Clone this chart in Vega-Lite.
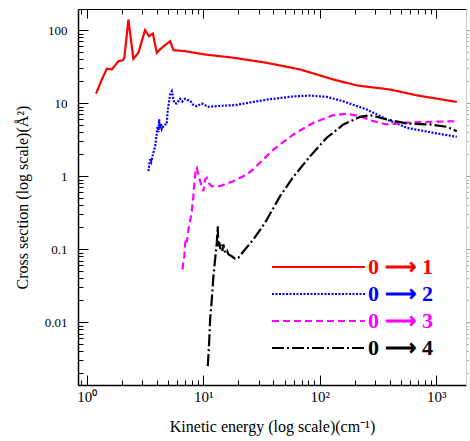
{
  "$schema": "https://vega.github.io/schema/vega-lite/v6.json",
  "width": 388,
  "height": 376,
  "autosize": {"type": "none"},
  "padding": {"left": 78, "top": 9, "right": 4, "bottom": 56},
  "background": "white",
  "config": {"view": {"stroke": null}, "font": "Liberation Serif", "axis": {"grid": false}},
  "data": {"values": [
    {"transition": "0 ⟶ 1", "energy": 1.2, "sigma": 13.5},
    {"transition": "0 ⟶ 1", "energy": 1.345, "sigma": 21.1},
    {"transition": "0 ⟶ 1", "energy": 1.485, "sigma": 29.6},
    {"transition": "0 ⟶ 1", "energy": 1.64, "sigma": 29},
    {"transition": "0 ⟶ 1", "energy": 1.867, "sigma": 37.6},
    {"transition": "0 ⟶ 1", "energy": 2.04, "sigma": 38.8},
    {"transition": "0 ⟶ 1", "energy": 2.1, "sigma": 41.9},
    {"transition": "0 ⟶ 1", "energy": 2.275, "sigma": 140},
    {"transition": "0 ⟶ 1", "energy": 2.51, "sigma": 40.5},
    {"transition": "0 ⟶ 1", "energy": 2.77, "sigma": 49},
    {"transition": "0 ⟶ 1", "energy": 3.16, "sigma": 100},
    {"transition": "0 ⟶ 1", "energy": 3.42, "sigma": 82.8},
    {"transition": "0 ⟶ 1", "energy": 3.69, "sigma": 90},
    {"transition": "0 ⟶ 1", "energy": 3.99, "sigma": 49},
    {"transition": "0 ⟶ 1", "energy": 4.4, "sigma": 57.4},
    {"transition": "0 ⟶ 1", "energy": 5.19, "sigma": 70.7},
    {"transition": "0 ⟶ 1", "energy": 5.54, "sigma": 53.2},
    {"transition": "0 ⟶ 1", "energy": 6.98, "sigma": 51.5},
    {"transition": "0 ⟶ 1", "energy": 10.3, "sigma": 46.5},
    {"transition": "0 ⟶ 1", "energy": 18.13, "sigma": 41.9},
    {"transition": "0 ⟶ 1", "energy": 35.1, "sigma": 35.7},
    {"transition": "0 ⟶ 1", "energy": 67.7, "sigma": 29},
    {"transition": "0 ⟶ 1", "energy": 131, "sigma": 21.1},
    {"transition": "0 ⟶ 1", "energy": 208, "sigma": 17.5},
    {"transition": "0 ⟶ 1", "energy": 401, "sigma": 15.4},
    {"transition": "0 ⟶ 1", "energy": 680, "sigma": 12.8},
    {"transition": "0 ⟶ 1", "energy": 1500, "sigma": 10.4},

    {"transition": "0 ⟶ 2", "energy": 3.38, "sigma": 1.17},
    {"transition": "0 ⟶ 2", "energy": 3.45, "sigma": 1.5},
    {"transition": "0 ⟶ 2", "energy": 3.52, "sigma": 1.75},
    {"transition": "0 ⟶ 2", "energy": 3.58, "sigma": 1.6},
    {"transition": "0 ⟶ 2", "energy": 3.7, "sigma": 2.0},
    {"transition": "0 ⟶ 2", "energy": 3.86, "sigma": 2.58},
    {"transition": "0 ⟶ 2", "energy": 3.99, "sigma": 3.93},
    {"transition": "0 ⟶ 2", "energy": 4.05, "sigma": 4.8},
    {"transition": "0 ⟶ 2", "energy": 4.12, "sigma": 4.0},
    {"transition": "0 ⟶ 2", "energy": 4.18, "sigma": 6.0},
    {"transition": "0 ⟶ 2", "energy": 4.24, "sigma": 4.5},
    {"transition": "0 ⟶ 2", "energy": 4.32, "sigma": 5.2},
    {"transition": "0 ⟶ 2", "energy": 4.4, "sigma": 4.4},
    {"transition": "0 ⟶ 2", "energy": 4.55, "sigma": 4.84},
    {"transition": "0 ⟶ 2", "energy": 4.7, "sigma": 5.1},
    {"transition": "0 ⟶ 2", "energy": 4.86, "sigma": 5.11},
    {"transition": "0 ⟶ 2", "energy": 4.92, "sigma": 7.38},
    {"transition": "0 ⟶ 2", "energy": 5.19, "sigma": 13.2},
    {"transition": "0 ⟶ 2", "energy": 5.37, "sigma": 14.6},
    {"transition": "0 ⟶ 2", "energy": 5.62, "sigma": 10.1},
    {"transition": "0 ⟶ 2", "energy": 5.92, "sigma": 9.9},
    {"transition": "0 ⟶ 2", "energy": 6.32, "sigma": 11.5},
    {"transition": "0 ⟶ 2", "energy": 6.6, "sigma": 10.5},
    {"transition": "0 ⟶ 2", "energy": 6.98, "sigma": 11.5},
    {"transition": "0 ⟶ 2", "energy": 7.4, "sigma": 11.0},
    {"transition": "0 ⟶ 2", "energy": 7.7, "sigma": 10.8},
    {"transition": "0 ⟶ 2", "energy": 8.2, "sigma": 9.5},
    {"transition": "0 ⟶ 2", "energy": 8.8, "sigma": 9.1},
    {"transition": "0 ⟶ 2", "energy": 9.71, "sigma": 9.9},
    {"transition": "0 ⟶ 2", "energy": 11.06, "sigma": 8.9},
    {"transition": "0 ⟶ 2", "energy": 13.94, "sigma": 9.2},
    {"transition": "0 ⟶ 2", "energy": 18.75, "sigma": 9.4},
    {"transition": "0 ⟶ 2", "energy": 35.1, "sigma": 11.2},
    {"transition": "0 ⟶ 2", "energy": 60, "sigma": 12.4},
    {"transition": "0 ⟶ 2", "energy": 82.6, "sigma": 12.7},
    {"transition": "0 ⟶ 2", "energy": 114.8, "sigma": 12.2},
    {"transition": "0 ⟶ 2", "energy": 159.5, "sigma": 10.6},
    {"transition": "0 ⟶ 2", "energy": 253, "sigma": 8.2},
    {"transition": "0 ⟶ 2", "energy": 376, "sigma": 6.0},
    {"transition": "0 ⟶ 2", "energy": 558, "sigma": 4.6},
    {"transition": "0 ⟶ 2", "energy": 944, "sigma": 3.93},
    {"transition": "0 ⟶ 2", "energy": 1500, "sigma": 3.47},

    {"transition": "0 ⟶ 3", "energy": 6.62, "sigma": 0.0527},
    {"transition": "0 ⟶ 3", "energy": 6.75, "sigma": 0.068},
    {"transition": "0 ⟶ 3", "energy": 6.88, "sigma": 0.0802},
    {"transition": "0 ⟶ 3", "energy": 6.98, "sigma": 0.116},
    {"transition": "0 ⟶ 3", "energy": 7.1, "sigma": 0.14},
    {"transition": "0 ⟶ 3", "energy": 7.2, "sigma": 0.125},
    {"transition": "0 ⟶ 3", "energy": 7.36, "sigma": 0.151},
    {"transition": "0 ⟶ 3", "energy": 7.45, "sigma": 0.186},
    {"transition": "0 ⟶ 3", "energy": 7.7, "sigma": 0.242},
    {"transition": "0 ⟶ 3", "energy": 7.97, "sigma": 0.332},
    {"transition": "0 ⟶ 3", "energy": 8.22, "sigma": 0.532},
    {"transition": "0 ⟶ 3", "energy": 8.39, "sigma": 0.812},
    {"transition": "0 ⟶ 3", "energy": 8.62, "sigma": 1.236},
    {"transition": "0 ⟶ 3", "energy": 8.8, "sigma": 1.3},
    {"transition": "0 ⟶ 3", "energy": 9.08, "sigma": 1.055},
    {"transition": "0 ⟶ 3", "energy": 9.57, "sigma": 0.769},
    {"transition": "0 ⟶ 3", "energy": 10.02, "sigma": 0.623},
    {"transition": "0 ⟶ 3", "energy": 10.36, "sigma": 0.902},
    {"transition": "0 ⟶ 3", "energy": 10.72, "sigma": 0.951},
    {"transition": "0 ⟶ 3", "energy": 11.06, "sigma": 0.812},
    {"transition": "0 ⟶ 3", "energy": 11.83, "sigma": 0.73},
    {"transition": "0 ⟶ 3", "energy": 13.06, "sigma": 0.716},
    {"transition": "0 ⟶ 3", "energy": 14.42, "sigma": 0.746},
    {"transition": "0 ⟶ 3", "energy": 18.13, "sigma": 0.855},
    {"transition": "0 ⟶ 3", "energy": 23.6, "sigma": 1.055},
    {"transition": "0 ⟶ 3", "energy": 26.9, "sigma": 1.25},
    {"transition": "0 ⟶ 3", "energy": 40, "sigma": 2.32},
    {"transition": "0 ⟶ 3", "energy": 59.4, "sigma": 3.73},
    {"transition": "0 ⟶ 3", "energy": 88.1, "sigma": 5.4},
    {"transition": "0 ⟶ 3", "energy": 130.9, "sigma": 6.85},
    {"transition": "0 ⟶ 3", "energy": 170.6, "sigma": 7.16},
    {"transition": "0 ⟶ 3", "energy": 222, "sigma": 6.64},
    {"transition": "0 ⟶ 3", "energy": 288.7, "sigma": 5.67},
    {"transition": "0 ⟶ 3", "energy": 376, "sigma": 5.11},
    {"transition": "0 ⟶ 3", "energy": 558, "sigma": 5.4},
    {"transition": "0 ⟶ 3", "energy": 885, "sigma": 5.56},
    {"transition": "0 ⟶ 3", "energy": 1500, "sigma": 5.67},

    {"transition": "0 ⟶ 4", "energy": 10.93, "sigma": 0.0025},
    {"transition": "0 ⟶ 4", "energy": 11.22, "sigma": 0.0052},
    {"transition": "0 ⟶ 4", "energy": 11.44, "sigma": 0.0109},
    {"transition": "0 ⟶ 4", "energy": 11.83, "sigma": 0.0205},
    {"transition": "0 ⟶ 4", "energy": 12.21, "sigma": 0.0427},
    {"transition": "0 ⟶ 4", "energy": 12.63, "sigma": 0.0723},
    {"transition": "0 ⟶ 4", "energy": 13.06, "sigma": 0.1225},
    {"transition": "0 ⟶ 4", "energy": 13.31, "sigma": 0.2066},
    {"transition": "0 ⟶ 4", "energy": 13.48, "sigma": 0.11},
    {"transition": "0 ⟶ 4", "energy": 13.7, "sigma": 0.125},
    {"transition": "0 ⟶ 4", "energy": 14.0, "sigma": 0.1},
    {"transition": "0 ⟶ 4", "energy": 14.3, "sigma": 0.115},
    {"transition": "0 ⟶ 4", "energy": 14.6, "sigma": 0.095},
    {"transition": "0 ⟶ 4", "energy": 14.88, "sigma": 0.116},
    {"transition": "0 ⟶ 4", "energy": 15.38, "sigma": 0.0893},
    {"transition": "0 ⟶ 4", "energy": 16.0, "sigma": 0.095},
    {"transition": "0 ⟶ 4", "energy": 16.42, "sigma": 0.085},
    {"transition": "0 ⟶ 4", "energy": 17.57, "sigma": 0.08},
    {"transition": "0 ⟶ 4", "energy": 18.75, "sigma": 0.0738},
    {"transition": "0 ⟶ 4", "energy": 20.0, "sigma": 0.0762},
    {"transition": "0 ⟶ 4", "energy": 21.4, "sigma": 0.0873},
    {"transition": "0 ⟶ 4", "energy": 22.8, "sigma": 0.099},
    {"transition": "0 ⟶ 4", "energy": 26.9, "sigma": 0.136},
    {"transition": "0 ⟶ 4", "energy": 33.9, "sigma": 0.23},
    {"transition": "0 ⟶ 4", "energy": 45.6, "sigma": 0.532},
    {"transition": "0 ⟶ 4", "energy": 59.4, "sigma": 0.982},
    {"transition": "0 ⟶ 4", "energy": 82.6, "sigma": 1.88},
    {"transition": "0 ⟶ 4", "energy": 114.8, "sigma": 3.36},
    {"transition": "0 ⟶ 4", "energy": 159.5, "sigma": 5.11},
    {"transition": "0 ⟶ 4", "energy": 222, "sigma": 6.51},
    {"transition": "0 ⟶ 4", "energy": 270, "sigma": 6.85},
    {"transition": "0 ⟶ 4", "energy": 376, "sigma": 5.99},
    {"transition": "0 ⟶ 4", "energy": 558, "sigma": 5.27},
    {"transition": "0 ⟶ 4", "energy": 885, "sigma": 5.11},
    {"transition": "0 ⟶ 4", "energy": 1230, "sigma": 4.75},
    {"transition": "0 ⟶ 4", "energy": 1500, "sigma": 4.13}
  ]},
  "layer": [
    {
      "mark": {"type": "line", "strokeWidth": 2.2},
      "encoding": {
        "x": {
          "field": "energy", "type": "quantitative",
          "scale": {"type": "log", "domain": [0.84, 1800], "nice": false, "zero": false},
          "axis": {
            "orient": "bottom",
            "values": [0.9, 1, 2, 3, 4, 5, 6, 7, 8, 9, 10, 20, 30, 40, 50, 60, 70, 80, 90, 100, 200, 300, 400, 500, 600, 700, 800, 900, 1000],
            "title": "Kinetic energy (log scale)(cm⁻¹)",
            "titleFont": "Liberation Serif", "titleFontSize": 16, "titleFontWeight": "normal", "titleColor": "black", "titlePadding": 9,
            "labelFont": "Liberation Serif", "labelFontSize": 15, "labelColor": "black",
            "labelExpr": "datum.value == 1 ? '10⁰' : datum.value == 10 ? '10¹' : datum.value == 100 ? '10²' : datum.value == 1000 ? '10³' : ''",
            "labelPadding": 14, "labelOverlap": false, "labelFlush": false,
            "tickSize": {"condition": {"test": "datum.value == 1 || datum.value == 10 || datum.value == 100 || datum.value == 1000", "value": -10}, "value": -5},
            "tickColor": "black", "tickWidth": 1, "domainColor": "black", "domainWidth": 1.5
          }
        },
        "y": {
          "field": "sigma", "type": "quantitative",
          "scale": {"type": "log", "domain": [0.00138, 195], "nice": false, "zero": false},
          "axis": {
            "orient": "left",
            "values": [0.002, 0.003, 0.004, 0.005, 0.006, 0.007, 0.008, 0.009, 0.01, 0.02, 0.03, 0.04, 0.05, 0.06, 0.07, 0.08, 0.09, 0.1, 0.2, 0.3, 0.4, 0.5, 0.6, 0.7, 0.8, 0.9, 1, 2, 3, 4, 5, 6, 7, 8, 9, 10, 20, 30, 40, 50, 60, 70, 80, 90, 100],
            "title": "Cross section (log scale)(Å²)",
            "titleFont": "Liberation Serif", "titleFontSize": 16, "titleFontWeight": "normal", "titleColor": "black", "titlePadding": 14,
            "labelFont": "Liberation Serif", "labelFontSize": 13, "labelColor": "black",
            "labelExpr": "datum.value == 100 ? '100' : datum.value == 10 ? '10' : datum.value == 1 ? '1' : datum.value == 0.1 ? '0.1' : datum.value == 0.01 ? '0.01' : ''",
            "labelPadding": 21, "labelOverlap": false, "labelFlush": false,
            "tickSize": {"condition": {"test": "datum.value == 100 || datum.value == 10 || datum.value == 1 || datum.value == 0.1 || datum.value == 0.01", "value": -10}, "value": -5},
            "tickColor": "black", "tickWidth": 1, "domainColor": "black", "domainWidth": 1.5
          }
        },
        "color": {
          "field": "transition", "type": "nominal",
          "scale": {"domain": ["0 ⟶ 1", "0 ⟶ 2", "0 ⟶ 3", "0 ⟶ 4"], "range": ["#ff0000", "#0000ff", "#ff00ff", "#000000"]},
          "legend": {
            "title": null, "orient": "none", "legendX": 193, "legendY": 247, "direction": "vertical", "padding": 0,
            "symbolType": "stroke", "symbolSize": 8649, "symbolStrokeWidth": 2, "clipHeight": 22,
            "labelFont": "Liberation Serif", "labelFontSize": 22, "labelFontWeight": "bold", "labelOffset": 2, "rowPadding": 5, "labelLimit": 200,
            "encoding": {"labels": {"fill": {"condition": [{"test": "datum.value === '0 ⟶ 1'", "value": "#ff0000"}, {"test": "datum.value === '0 ⟶ 2'", "value": "#0000ff"}, {"test": "datum.value === '0 ⟶ 3'", "value": "#ff00ff"}], "value": "#000000"}}}
          }
        },
        "strokeDash": {
          "field": "transition", "type": "nominal",
          "scale": {"domain": ["0 ⟶ 1", "0 ⟶ 2", "0 ⟶ 3", "0 ⟶ 4"], "range": [[1, 0], [2, 1.5], [7, 4], [12, 3, 2, 3]]},
          "legend": {
            "title": null, "orient": "none", "legendX": 193, "legendY": 247, "direction": "vertical", "padding": 0,
            "symbolType": "stroke", "symbolSize": 8649, "symbolStrokeWidth": 2, "clipHeight": 22,
            "labelFont": "Liberation Serif", "labelFontSize": 22, "labelFontWeight": "bold", "labelOffset": 2, "rowPadding": 5, "labelLimit": 200,
            "encoding": {"labels": {"fill": {"condition": [{"test": "datum.value === '0 ⟶ 1'", "value": "#ff0000"}, {"test": "datum.value === '0 ⟶ 2'", "value": "#0000ff"}, {"test": "datum.value === '0 ⟶ 3'", "value": "#ff00ff"}], "value": "#000000"}}}
          }
        }
      }
    },
    {
      "mark": {"type": "point", "opacity": 0},
      "encoding": {
        "x": {
          "field": "energy", "type": "quantitative",
          "axis": {
            "orient": "top", "title": null, "labels": false,
            "values": [0.9, 1, 2, 3, 4, 5, 6, 7, 8, 9, 10, 20, 30, 40, 50, 60, 70, 80, 90, 100, 200, 300, 400, 500, 600, 700, 800, 900, 1000],
            "tickSize": {"condition": {"test": "datum.value == 1 || datum.value == 10 || datum.value == 100 || datum.value == 1000", "value": -9}, "value": -5},
            "tickColor": "black", "tickWidth": 1, "domainColor": "black", "domainWidth": 1.2
          }
        },
        "y": {
          "field": "sigma", "type": "quantitative",
          "axis": {
            "orient": "right", "title": null, "labels": false,
            "values": [0.002, 0.003, 0.004, 0.005, 0.006, 0.007, 0.008, 0.009, 0.01, 0.02, 0.03, 0.04, 0.05, 0.06, 0.07, 0.08, 0.09, 0.1, 0.2, 0.3, 0.4, 0.5, 0.6, 0.7, 0.8, 0.9, 1, 2, 3, 4, 5, 6, 7, 8, 9, 10, 20, 30, 40, 50, 60, 70, 80, 90, 100],
            "tickSize": {"condition": {"test": "datum.value == 100 || datum.value == 10 || datum.value == 1 || datum.value == 0.1 || datum.value == 0.01", "value": 5}, "value": 2},
            "tickColor": "#999999", "tickWidth": 1, "domainColor": "#cccccc", "domainWidth": 1
          }
        }
      }
    }
  ],
  "resolve": {"axis": {"x": "independent", "y": "independent"}}
}
